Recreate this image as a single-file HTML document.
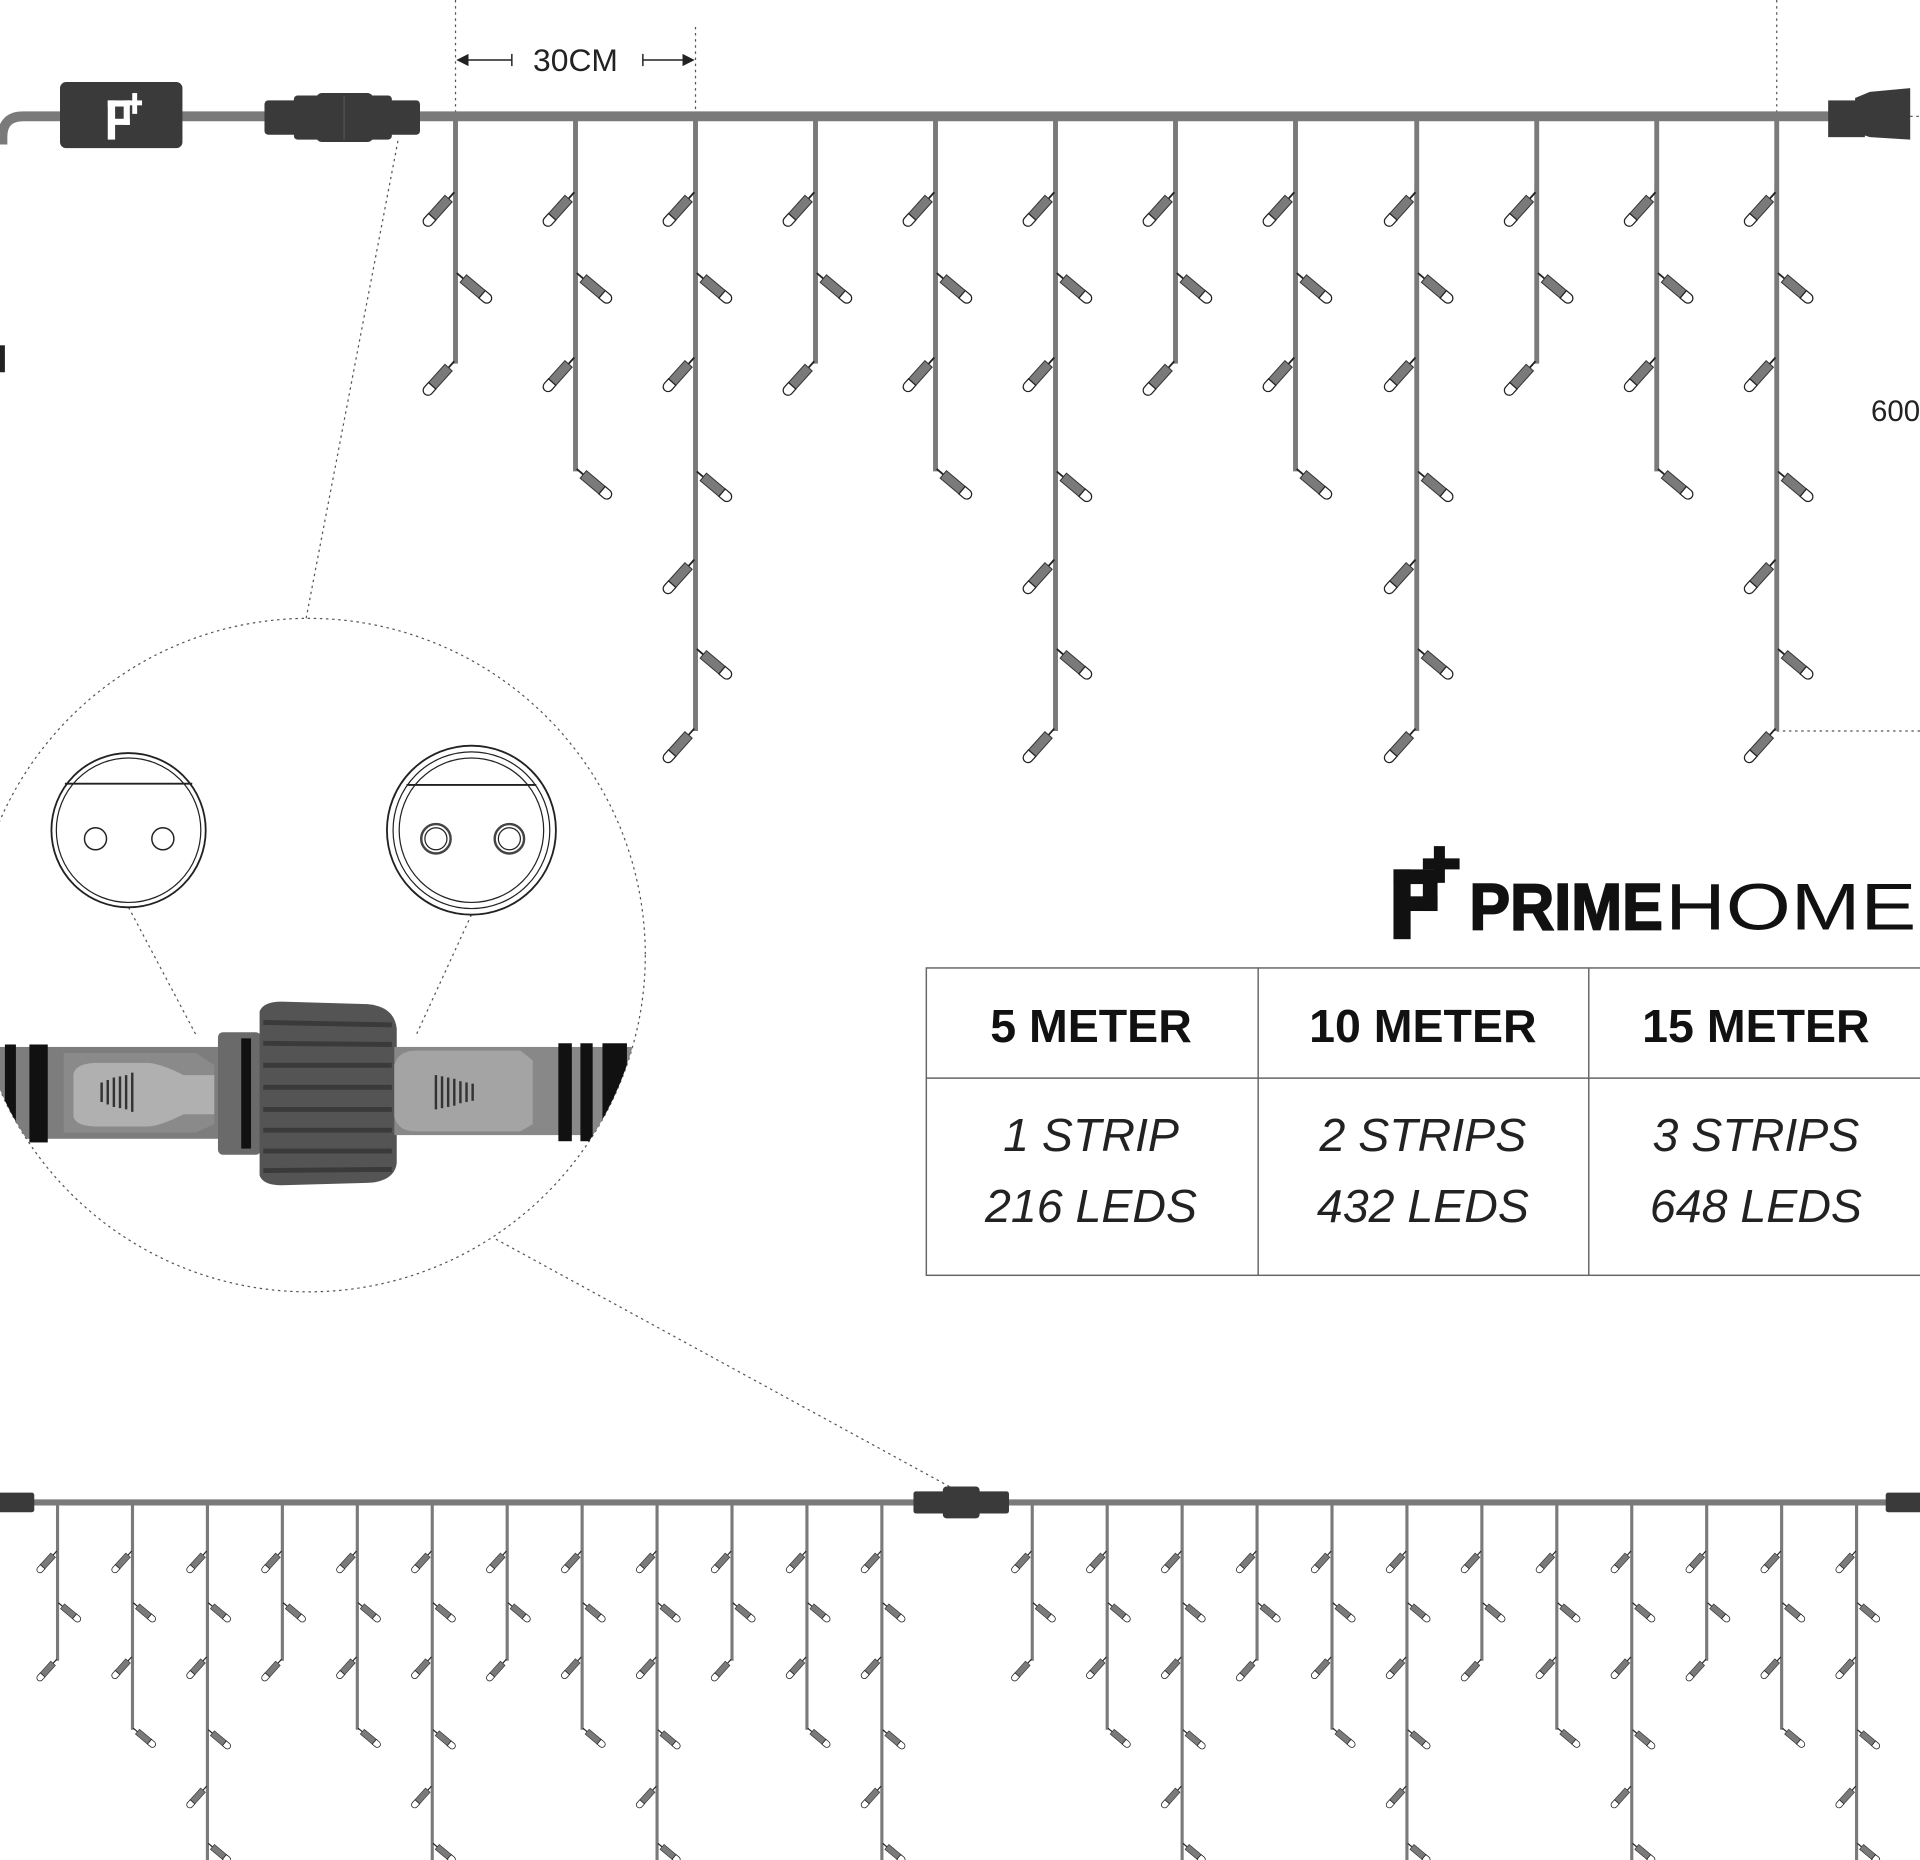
<!DOCTYPE html>
<html><head><meta charset="utf-8"><style>html,body{margin:0;padding:0;background:#fff;overflow:hidden}svg{display:block}</style></head>
<body>
<svg width="1920" height="1860" viewBox="0 0 1568 1519" preserveAspectRatio="none" xmlns="http://www.w3.org/2000/svg">
<defs>
<g id="led"><line x1="0" y1="0" x2="7" y2="0" stroke="#222" stroke-width="1.5"/><rect x="7" y="-4" width="20" height="8" fill="#7a7a7a" stroke="#333" stroke-width="0.8"/><path d="M27,-4 h5 a4,4 0 0 1 0,8 h-5 z" fill="#fff" stroke="#222" stroke-width="1"/></g>
<g id="S"><line x1="0" y1="95" x2="0" y2="297" stroke="#7a7a7a" stroke-width="4"/>
<use href="#led" transform="translate(-1,157) rotate(132)"/><use href="#led" transform="translate(1,223) rotate(40)"/><use href="#led" transform="translate(-1,295) rotate(132)"/></g>
<g id="M"><line x1="0" y1="95" x2="0" y2="385" stroke="#7a7a7a" stroke-width="4"/>
<use href="#led" transform="translate(-1,157) rotate(132)"/><use href="#led" transform="translate(1,223) rotate(40)"/><use href="#led" transform="translate(-1,292) rotate(132)"/><use href="#led" transform="translate(1,383) rotate(40)"/></g>
<g id="Lg"><line x1="0" y1="95" x2="0" y2="597" stroke="#7a7a7a" stroke-width="4"/>
<use href="#led" transform="translate(-1,157) rotate(132)"/><use href="#led" transform="translate(1,223) rotate(40)"/><use href="#led" transform="translate(-1,292) rotate(132)"/><use href="#led" transform="translate(1,385) rotate(40)"/><use href="#led" transform="translate(-1,457) rotate(132)"/><use href="#led" transform="translate(1,530) rotate(40)"/><use href="#led" transform="translate(-1,595) rotate(132)"/></g>
<clipPath id="cc"><circle cx="252" cy="780" r="275"/></clipPath>
</defs>

<g stroke="#555" stroke-width="1" stroke-dasharray="2,3" fill="none">
<line x1="372" y1="0" x2="372" y2="92"/><line x1="568" y1="22" x2="568" y2="92"/><line x1="1451" y1="0" x2="1451" y2="92"/>
<line x1="1451" y1="597" x2="1568" y2="597"/><line x1="1500" y1="95" x2="1568" y2="95"/>
<line x1="325" y1="115" x2="250" y2="505"/><line x1="405" y1="1012" x2="790" y2="1222"/>
<line x1="105" y1="741" x2="160" y2="845"/><line x1="385" y1="747" x2="340" y2="845"/>
</g>
<g stroke="#222" stroke-width="1.2" fill="#222">
<line x1="376" y1="49" x2="418" y2="49"/><line x1="418" y1="44" x2="418" y2="54"/><path d="M374,49 l8,-4 v8 z"/>
<line x1="525" y1="49" x2="564" y2="49"/><line x1="525" y1="44" x2="525" y2="54"/><path d="M566,49 l-8,-4 v8 z"/>
</g>
<text x="470" y="58" font-family="Liberation Sans, sans-serif" font-size="26" fill="#222" text-anchor="middle">30CM</text>
<text x="1528" y="344" font-family="Liberation Sans, sans-serif" font-size="24" fill="#222">600</text>

<path d="M2,118 V112 Q2,95 19,95 H1495" stroke="#7a7a7a" stroke-width="8" fill="none"/>
<rect x="-4" y="282" width="8" height="22" fill="#222"/>
<rect x="49" y="67" width="100" height="54" rx="5" fill="#3a3a3a"/>
<g fill="#fff"><rect x="88" y="82" width="6" height="32"/><rect x="88" y="82" width="18" height="5"/><rect x="101" y="82" width="5" height="20"/><rect x="92" y="97" width="14" height="5"/><rect x="108" y="76" width="4" height="17"/><rect x="104" y="82" width="12" height="4"/></g>
<rect x="216" y="82" width="127" height="28" rx="3" fill="#3a3a3a"/>
<rect x="240" y="78" width="80" height="36" rx="3" fill="#3a3a3a"/>
<rect x="258" y="76" width="47" height="40" rx="5" fill="#3a3a3a"/>
<line x1="281" y1="78" x2="281" y2="114" stroke="#555" stroke-width="1"/>
<rect x="1493" y="82" width="30" height="30" fill="#3a3a3a"/><path d="M1515,80 L1527,75 L1560,72 V114 L1527,112 L1515,108 Z" fill="#3a3a3a"/>

<use href="#S" x="372"/><use href="#M" x="470"/><use href="#Lg" x="568"/>
<use href="#S" x="666"/><use href="#M" x="764"/><use href="#Lg" x="862"/>
<use href="#S" x="960"/><use href="#M" x="1058"/><use href="#Lg" x="1157"/>
<use href="#S" x="1255"/><use href="#M" x="1353"/><use href="#Lg" x="1451"/>

<circle cx="252" cy="780" r="275" fill="none" stroke="#555" stroke-width="1" stroke-dasharray="2,3"/>
<circle cx="105" cy="678" r="63" fill="#fff" stroke="#222" stroke-width="1.5"/>
<circle cx="105" cy="678" r="59" fill="none" stroke="#222" stroke-width="1"/>
<line x1="53" y1="640" x2="157" y2="640" stroke="#222" stroke-width="1.5"/>
<circle cx="78" cy="685" r="9" fill="#fff" stroke="#222" stroke-width="1.2"/><circle cx="133" cy="685" r="9" fill="#fff" stroke="#222" stroke-width="1.2"/>
<circle cx="385" cy="678" r="69" fill="#fff" stroke="#222" stroke-width="1.5"/>
<circle cx="385" cy="678" r="64" fill="none" stroke="#222" stroke-width="1"/>
<circle cx="385" cy="678" r="59" fill="none" stroke="#222" stroke-width="1"/>
<line x1="332" y1="641" x2="438" y2="641" stroke="#222" stroke-width="1.5"/>
<circle cx="356" cy="685" r="12" fill="#fff" stroke="#444" stroke-width="2"/><circle cx="356" cy="685" r="9" fill="none" stroke="#222" stroke-width="1"/>
<circle cx="416" cy="685" r="12" fill="#fff" stroke="#444" stroke-width="2"/><circle cx="416" cy="685" r="9" fill="none" stroke="#222" stroke-width="1"/>
<g clip-path="url(#cc)">
<rect x="-10" y="855" width="200" height="75" fill="#7d7d7d"/>
<rect x="4" y="853" width="9" height="80" fill="#111"/><rect x="24" y="853" width="15" height="80" fill="#111"/>
<path d="M52,860 H160 L175,870 V918 L160,925 H52 Z" fill="#8a8a8a"/>
<path d="M60,877 Q62,868 80,868 H120 Q130,868 150,878 H175 V910 H150 Q130,920 120,920 H80 Q62,920 60,912 Z" fill="#b0b0b0"/>
<g stroke="#333" stroke-width="2"><line x1="83" y1="884" x2="83" y2="900"/><line x1="88" y1="882" x2="88" y2="902"/><line x1="93" y1="880" x2="93" y2="904"/><line x1="98" y1="879" x2="98" y2="905"/><line x1="103" y1="878" x2="103" y2="906"/><line x1="108" y1="876" x2="108" y2="908"/></g>
<rect x="178" y="843" width="35" height="100" rx="4" fill="#6a6a6a"/>
<rect x="197" y="848" width="8" height="90" fill="#111"/>
<path d="M212,826 Q215,818 230,818 L300,820 Q322,822 324,840 V950 Q322,965 300,966 L230,968 Q215,968 212,960 Z" fill="#545454"/>
<g stroke="#3a3a3a" stroke-width="4"><line x1="215" y1="835" x2="320" y2="837"/><line x1="215" y1="852" x2="320" y2="853"/><line x1="215" y1="870" x2="320" y2="870"/><line x1="215" y1="888" x2="320" y2="888"/><line x1="215" y1="906" x2="320" y2="906"/><line x1="215" y1="923" x2="320" y2="923"/><line x1="215" y1="940" x2="320" y2="940"/><line x1="215" y1="956" x2="320" y2="955"/></g>
<rect x="322" y="855" width="230" height="72" fill="#888"/>
<path d="M322,870 Q325,858 340,858 H425 L435,866 V918 L425,924 H340 Q325,924 322,912 Z" fill="#a4a4a4"/>
<g stroke="#333" stroke-width="2"><line x1="356" y1="878" x2="356" y2="906"/><line x1="361" y1="879" x2="361" y2="905"/><line x1="366" y1="880" x2="366" y2="904"/><line x1="371" y1="881" x2="371" y2="903"/><line x1="376" y1="883" x2="376" y2="901"/><line x1="381" y1="884" x2="381" y2="900"/><line x1="386" y1="885" x2="386" y2="899"/></g>
<rect x="456" y="852" width="11" height="80" fill="#111"/><rect x="474" y="852" width="10" height="80" fill="#111"/><rect x="492" y="852" width="20" height="80" fill="#111"/>
</g>

<g fill="#111">
<rect x="1138" y="710" width="14" height="57"/><rect x="1138" y="710" width="36" height="12"/><rect x="1162" y="710" width="12" height="34"/><rect x="1146" y="732" width="28" height="12"/>
<rect x="1171" y="691" width="9" height="30"/><rect x="1162" y="701" width="30" height="9"/>
</g>
<text x="1200" y="759" font-family="Liberation Sans, sans-serif" font-size="54" font-weight="bold" fill="#111" stroke="#111" stroke-width="1.5" textLength="158" lengthAdjust="spacingAndGlyphs">PRIME</text>
<text x="1360" y="759" font-family="Liberation Sans, sans-serif" font-size="54" fill="#111" textLength="205" lengthAdjust="spacingAndGlyphs">HOME</text>

<g stroke="#666" stroke-width="1.2" fill="none">
<rect x="756.5" y="790.5" width="830" height="251"/>
<line x1="756" y1="880.5" x2="1568" y2="880.5"/>
<line x1="1027.5" y1="790" x2="1027.5" y2="1042"/><line x1="1297.5" y1="790" x2="1297.5" y2="1042"/>
</g>
<g font-family="Liberation Sans, sans-serif" font-size="38" fill="#111" text-anchor="middle">
<text x="891" y="851" font-weight="bold">5 METER</text><text x="1162" y="851" font-weight="bold">10 METER</text><text x="1434" y="851" font-weight="bold">15 METER</text>
<g font-style="italic" fill="#222">
<text x="891" y="940">1 STRIP</text><text x="891" y="998">216 LEDS</text>
<text x="1162" y="940">2 STRIPS</text><text x="1162" y="998">432 LEDS</text>
<text x="1434" y="940">3 STRIPS</text><text x="1434" y="998">648 LEDS</text>
</g></g>

<line x1="0" y1="1227" x2="1568" y2="1227" stroke="#7a7a7a" stroke-width="5"/>
<rect x="-2" y="1219" width="30" height="16" rx="2" fill="#3a3a3a"/>
<rect x="746" y="1218" width="78" height="18" rx="2" fill="#3a3a3a"/><rect x="770" y="1214" width="30" height="26" rx="3" fill="#3a3a3a"/>
<rect x="1540" y="1219" width="30" height="16" rx="2" fill="#3a3a3a"/>
<g>
<g transform="translate(47,1227) scale(.64) translate(0,-95)"><use href="#S"/></g>
<g transform="translate(108.2,1227) scale(.64) translate(0,-95)"><use href="#M"/></g>
<g transform="translate(169.4,1227) scale(.64) translate(0,-95)"><use href="#Lg"/></g>
<g transform="translate(230.6,1227) scale(.64) translate(0,-95)"><use href="#S"/></g>
<g transform="translate(291.8,1227) scale(.64) translate(0,-95)"><use href="#M"/></g>
<g transform="translate(353,1227) scale(.64) translate(0,-95)"><use href="#Lg"/></g>
<g transform="translate(414.2,1227) scale(.64) translate(0,-95)"><use href="#S"/></g>
<g transform="translate(475.4,1227) scale(.64) translate(0,-95)"><use href="#M"/></g>
<g transform="translate(536.6,1227) scale(.64) translate(0,-95)"><use href="#Lg"/></g>
<g transform="translate(597.8,1227) scale(.64) translate(0,-95)"><use href="#S"/></g>
<g transform="translate(659,1227) scale(.64) translate(0,-95)"><use href="#M"/></g>
<g transform="translate(720.2,1227) scale(.64) translate(0,-95)"><use href="#Lg"/></g>
<g transform="translate(843,1227) scale(.64) translate(0,-95)"><use href="#S"/></g>
<g transform="translate(904.2,1227) scale(.64) translate(0,-95)"><use href="#M"/></g>
<g transform="translate(965.4,1227) scale(.64) translate(0,-95)"><use href="#Lg"/></g>
<g transform="translate(1026.6,1227) scale(.64) translate(0,-95)"><use href="#S"/></g>
<g transform="translate(1087.8,1227) scale(.64) translate(0,-95)"><use href="#M"/></g>
<g transform="translate(1149,1227) scale(.64) translate(0,-95)"><use href="#Lg"/></g>
<g transform="translate(1210.2,1227) scale(.64) translate(0,-95)"><use href="#S"/></g>
<g transform="translate(1271.4,1227) scale(.64) translate(0,-95)"><use href="#M"/></g>
<g transform="translate(1332.6,1227) scale(.64) translate(0,-95)"><use href="#Lg"/></g>
<g transform="translate(1393.8,1227) scale(.64) translate(0,-95)"><use href="#S"/></g>
<g transform="translate(1455,1227) scale(.64) translate(0,-95)"><use href="#M"/></g>
<g transform="translate(1516.2,1227) scale(.64) translate(0,-95)"><use href="#Lg"/></g>
</g>
</svg>
</body></html>
